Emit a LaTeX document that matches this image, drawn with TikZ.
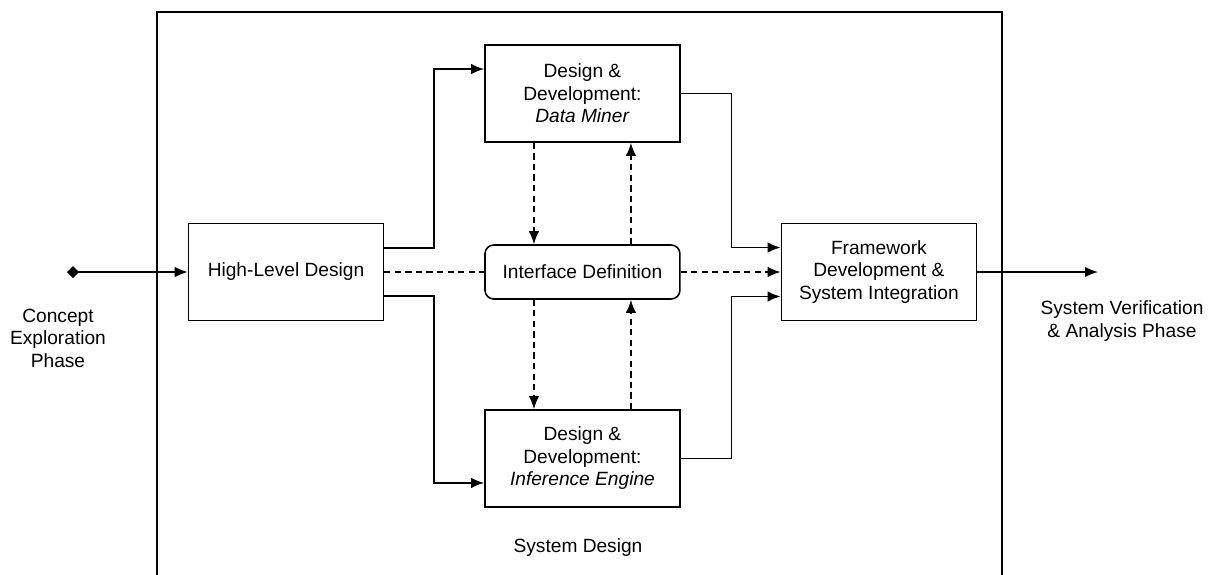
\documentclass[tikz,border=0pt]{standalone}
\usepackage{fontspec}
\setmainfont{Liberation Sans}
\usepackage{tikz}
\usetikzlibrary{arrows.meta,positioning}

\begin{document}
\begin{tikzpicture}[x=0.02cm, y=-0.02cm, node distance=5.93cm,
  font=\fontsize{10.9}{12.8}\selectfont,
  block/.style={draw, rectangle, line width=0.9pt, minimum width=3.9cm, minimum height=1.94cm, align=center, inner sep=2pt},
  link/.style={line width=0.9pt, -{Latex[length=2.6mm,width=2.1mm]}},
  hint/.style={link, dash pattern=on 3.5pt off 2.5pt}]

% Page and system design frame
\useasboundingbox (0,0) rectangle (1208,575);
\draw[line width=0.9pt] (157,590) -- (157,12) -- (1002,12) -- (1002,590);

% Main blocks
\node[block] (hld) at (286,272) {High-Level Design};
\node[block, right of=hld, minimum height=1.08cm, rounded corners=5pt] (iface) {Interface Definition};
\node[block, above of=iface, node distance=3.57cm] (dm) {Design \&\\Development:\\\textit{Data Miner}};
\node[block, below of=iface, node distance=3.73cm] (ie) {Design \&\\Development:\\\textit{Inference Engine}};
\node[block, right of=iface] (fw) {Framework\\Development \&\\System Integration};

% Phases
\coordinate (start) at (67,272);
\coordinate (finish) at (1098,272);
\node[align=center] (concept) at (58,338) {Concept\\Exploration\\Phase};
\node[align=center] (verif) at (1122,321) {System Verification\\\& Analysis Phase};
\node (sysdesign) at (578,548) {System Design};

% Solid flow
\draw[link, {Diamond[length=2.4mm,width=2.4mm]}-{Latex[length=2.6mm,width=2.1mm]}] (start) -- (hld.west);
\draw[link] ([yshift=0.48cm]hld.east) -- ++(1cm,0) |- ([yshift=0.49cm]dm.west);
\draw[link] ([yshift=-0.48cm]hld.east) -- ++(1cm,0) |- ([yshift=-0.49cm]ie.west);
\draw[link] (dm.east) -- ++(1.02cm,0) |- ([yshift=0.49cm]fw.west);
\draw[link] (ie.east) -- ++(1.02cm,0) |- ([yshift=-0.49cm]fw.west);
\draw[link] (fw.east) -- (finish);

% Interface exchanges
\draw[hint, -] (hld.east) -- (iface.west);
\draw[hint] (iface.east) -- (fw.west);
\draw[hint] ([xshift=-0.97cm]dm.south) -- ([xshift=-0.97cm]iface.north);
\draw[hint] ([xshift=0.97cm]iface.north) -- ([xshift=0.97cm]dm.south);
\draw[hint] ([xshift=-0.97cm]iface.south) -- ([xshift=-0.97cm]ie.north);
\draw[hint] ([xshift=0.97cm]ie.north) -- ([xshift=0.97cm]iface.south);
\end{tikzpicture}
\end{document}
